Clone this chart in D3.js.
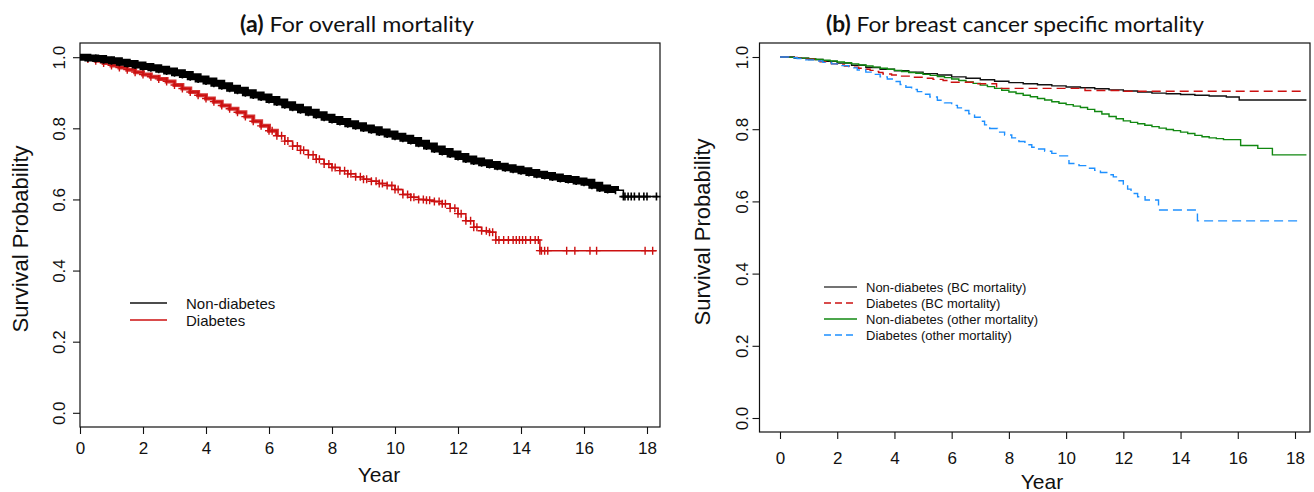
<!DOCTYPE html>
<html>
<head>
<meta charset="utf-8">
<script src="https://cdn.jsdelivr.net/npm/d3@7"></script>
<style>
  html, body { margin: 0; padding: 0; background: #fff; }
  svg { display: block; }
  text { font-family: "Liberation Sans", Arial, sans-serif; fill: #111; }
  .title { font-family: Lato, "Open Sans", sans-serif; }
</style>
</head>
<body>
<svg id="chart" width="1314" height="492"></svg>
<script>
// ---------------- DATA ----------------
const xTicks = [0, 2, 4, 6, 8, 10, 12, 14, 16, 18];
const yTicks = [0, 0.2, 0.4, 0.6, 0.8, 1.0];

// Panel (a): overall mortality, Kaplan-Meier step points
const aNonDiabTime = [0,0.25,0.5,0.75,1,1.25,1.5,1.75,2,2.25,2.5,2.75,3,3.25,3.5,3.75,4,4.25,4.5,4.75,5,5.25,5.5,5.75,6,6.25,6.5,6.75,7,7.25,7.5,7.75,8,8.25,8.5,8.75,9,9.25,9.5,9.75,10,10.25,10.5,10.75,11,11.25,11.5,11.75,12,12.25,12.5,12.75,13,13.25,13.5,13.75,14,14.25,14.5,14.75,15,15.25,15.5,15.75,16,16.25,16.5,16.75,17,17.25,18.35];
const aNonDiabSurv = [1.000,0.998,0.996,0.993,0.990,0.986,0.982,0.978,0.974,0.970,0.966,0.961,0.956,0.951,0.945,0.939,0.933,0.927,0.920,0.913,0.907,0.900,0.894,0.888,0.881,0.874,0.866,0.859,0.852,0.845,0.838,0.831,0.825,0.819,0.813,0.807,0.801,0.796,0.790,0.784,0.778,0.772,0.766,0.758,0.750,0.742,0.735,0.728,0.721,0.714,0.708,0.703,0.698,0.693,0.689,0.685,0.681,0.676,0.671,0.667,0.663,0.659,0.656,0.652,0.648,0.640,0.632,0.628,0.626,0.608,0.608];
const aNonDiabCensorTail = [17.3,17.4,17.5,17.6,17.75,17.9,18.0,18.3];

const aDiabTime = [0,0.25,0.5,0.75,1,1.25,1.5,1.75,2,2.25,2.5,2.75,3,3.25,3.5,3.75,4,4.25,4.5,4.75,5,5.25,5.5,5.75,6,6.25,6.5,6.75,7,7.25,7.5,7.75,8,8.25,8.5,8.75,9,9.25,9.5,9.75,10,10.25,10.5,10.75,11,11.25,11.5,11.75,12,12.25,12.5,12.75,13,13.2,14.6,18.3];
const aDiabSurv = [1.000,0.995,0.990,0.984,0.977,0.971,0.965,0.958,0.951,0.945,0.939,0.932,0.922,0.912,0.902,0.893,0.884,0.875,0.864,0.855,0.845,0.833,0.820,0.807,0.793,0.779,0.764,0.750,0.738,0.726,0.713,0.700,0.690,0.681,0.672,0.664,0.657,0.651,0.645,0.639,0.628,0.614,0.606,0.600,0.598,0.594,0.588,0.575,0.560,0.540,0.522,0.512,0.508,0.486,0.456,0.456];
const aDiabCensorMid = [6.1,6.4,6.6,6.9,7.1,7.4,7.6,7.9,8.1,8.4,8.6,8.9,9.1,9.4,9.6,9.9,10.1,10.4,10.6,10.9,11.1,11.4,11.6,11.9,12.1,12.4,12.6,12.9,13.1];
const aDiabCensorTail = [13.3,13.45,13.6,13.75,13.85,13.95,14.05,14.15,14.3,14.45,14.55,14.65,14.75,14.85,15.45,15.71,16.19,16.4,17.94,18.18];

// Panel (b): breast cancer specific mortality
const bNonDiabBCTime = [0,0.5,1,1.5,2,2.5,3,3.5,4,4.5,5,5.5,6,6.5,7,7.5,8,8.5,9,9.5,10,10.5,11,11.5,12,12.5,13,13.5,14,14.5,15,15.6,16.05,18.4];
const bNonDiabBCSurv = [1.000,0.997,0.993,0.988,0.983,0.977,0.971,0.966,0.962,0.958,0.954,0.950,0.945,0.941,0.937,0.933,0.929,0.926,0.923,0.920,0.917,0.915,0.912,0.909,0.906,0.903,0.900,0.898,0.896,0.894,0.892,0.889,0.881,0.881];

const bDiabBCTime = [0,0.3,0.6,0.9,1.2,1.4,1.6,1.8,2.0,2.25,2.5,2.75,3.0,3.15,3.3,3.45,3.6,3.9,4.2,4.6,5.0,5.35,5.7,5.9,6.8,7.57,10.66,11.9,18.2];
const bDiabBCSurv = [1.000,0.999,0.997,0.994,0.990,0.987,0.984,0.981,0.978,0.975,0.972,0.969,0.966,0.963,0.960,0.957,0.953,0.950,0.947,0.944,0.941,0.938,0.935,0.930,0.926,0.913,0.907,0.905,0.905];

const bNonDiabOtherTime = [0,0.25,0.5,0.75,1,1.25,1.5,1.75,2,2.25,2.5,2.75,3,3.25,3.5,3.75,4,4.25,4.5,4.75,5,5.25,5.5,5.75,6,6.25,6.5,6.75,7,7.25,7.5,7.75,8,8.25,8.5,8.75,9,9.25,9.5,9.75,10,10.25,10.5,10.75,11,11.25,11.5,11.75,12,12.25,12.5,12.75,13,13.25,13.5,13.75,14,14.25,14.5,14.75,15,15.25,15.5,16.1,16.7,17.21,18.4];
const bNonDiabOtherSurv = [1.000,0.999,0.998,0.997,0.995,0.993,0.991,0.989,0.986,0.984,0.981,0.978,0.975,0.972,0.969,0.966,0.963,0.960,0.957,0.955,0.952,0.949,0.946,0.943,0.939,0.935,0.931,0.927,0.922,0.918,0.913,0.908,0.903,0.899,0.894,0.890,0.885,0.881,0.876,0.872,0.868,0.864,0.860,0.855,0.849,0.842,0.835,0.829,0.823,0.819,0.815,0.811,0.807,0.803,0.799,0.796,0.792,0.788,0.783,0.779,0.776,0.774,0.771,0.755,0.747,0.729,0.729];

const bDiabOtherTime = [0,0.3,0.6,0.9,1.2,1.5,1.8,2.1,2.4,2.7,3.0,3.25,3.5,3.75,4.0,4.2,4.4,4.6,4.8,5.0,5.24,5.5,5.75,6.0,6.2,6.4,6.6,6.8,7.0,7.15,7.33,7.6,7.85,8.1,8.35,8.56,8.8,9.0,9.25,9.5,9.75,10.05,10.1,10.45,10.79,11.0,11.2,11.45,11.65,11.85,12.0,12.15,12.27,12.5,12.76,13.23,14.59,18.2];
const bDiabOtherSurv = [1.000,0.998,0.996,0.992,0.989,0.985,0.981,0.976,0.970,0.964,0.958,0.952,0.945,0.939,0.932,0.924,0.916,0.910,0.904,0.897,0.889,0.880,0.873,0.866,0.859,0.852,0.843,0.833,0.822,0.812,0.802,0.792,0.784,0.776,0.766,0.757,0.750,0.745,0.739,0.733,0.726,0.719,0.705,0.699,0.692,0.686,0.680,0.674,0.668,0.657,0.648,0.634,0.622,0.613,0.604,0.576,0.546,0.546];

const legendA = ["Non-diabetes", "Diabetes"];
const legendB = ["Non-diabetes (BC mortality)", "Diabetes (BC mortality)", "Non-diabetes (other mortality)", "Diabetes (other mortality)"];

// ---------------- DRAWING ----------------
const svg = d3.select("#chart");
const zip = (t, s) => t.map((d, i) => ({t: d, s: s[i]}));
const stepVal = (data, t) => { let v = data[0].s; for (const d of data) { if (d.t <= t) v = d.s; } return v; };
const plusPath = "M-4,0H4M0,-4V4";

function drawPanel(cfg) {
  const g = svg.append("g");
  const x = d3.scaleLinear().domain([0, 18]).range(cfg.xr);
  const y = d3.scaleLinear().domain([0, 1]).range(cfg.yr);

  g.append("rect").attr("x", cfg.box[0]).attr("y", cfg.box[1])
    .attr("width", cfg.box[2] - cfg.box[0]).attr("height", cfg.box[3] - cfg.box[1])
    .attr("fill", "none").attr("stroke", "#111").attr("stroke-width", 1.2);

  const xa = g.append("g").attr("transform", `translate(0,${cfg.box[3]})`)
    .call(d3.axisBottom(x).tickValues(xTicks).tickSize(7).tickPadding(5));
  xa.select(".domain").remove();
  xa.selectAll("line").attr("stroke", "#111").attr("stroke-width", 1.1);
  xa.selectAll("text").attr("font-size", 17).attr("font-family", "Liberation Sans, Arial, sans-serif").attr("fill", "#111");
  xa.selectAll("text").attr("y", cfg.xLabelY - cfg.box[3]).attr("dy", 0);

  const ya = g.append("g").attr("transform", `translate(${cfg.box[0]},0)`)
    .call(d3.axisLeft(y).tickValues(yTicks).tickSize(7).tickFormat(d3.format(".1f")));
  ya.select(".domain").remove();
  ya.selectAll("line").attr("stroke", "#111").attr("stroke-width", 1.1);
  ya.selectAll("text")
    .attr("font-size", 17).attr("font-family", "Liberation Sans, Arial, sans-serif").attr("fill", "#111")
    .attr("x", 0).attr("dy", 0).attr("text-anchor", "middle")
    .attr("transform", `translate(${cfg.yLabelX - cfg.box[0] + 6},0) rotate(-90)`);

  g.append("text").attr("x", cfg.xTitle[0]).attr("y", cfg.xTitle[1]).attr("text-anchor", "middle")
    .attr("font-size", 21).text("Year");
  g.append("text").attr("transform", `translate(${cfg.yTitle[0] + 7},${cfg.yTitle[1]}) rotate(-90)`)
    .attr("text-anchor", "middle").attr("font-size", 22).text("Survival Probability");

  const tt = g.append("text").attr("class", "title").attr("x", cfg.title[0]).attr("y", cfg.title[1])
    .attr("text-anchor", "middle").attr("font-size", 22)
    .attr("textLength", cfg.titleLen).attr("lengthAdjust", "spacingAndGlyphs");
  tt.append("tspan").attr("font-weight", "bold").text(cfg.titleBold);
  tt.append("tspan").text(cfg.titleRest);

  return {g, x, y};
}

const line = (x, y) => d3.line().x(d => x(d.t)).y(d => y(d.s)).curve(d3.curveStepAfter);

// ---- Panel A ----
const A = drawPanel({
  xr: [80, 647], yr: [412.8, 57.2], box: [80, 43, 660, 427],
  xLabelY: 454, yLabelX: 59, xTitle: [379, 482], yTitle: [21, 239],
  title: [357, 32], titleLen: 234, titleBold: "(a)", titleRest: " For overall mortality"
});
{
  const {g, x, y} = A;
  const nd = zip(aNonDiabTime, aNonDiabSurv);
  const di = zip(aDiabTime, aDiabSurv);
  g.append("path").datum(di.filter(d => d.t <= 6.25)).attr("d", line(x, y))
    .attr("fill", "none").attr("stroke", "#cc1010").attr("stroke-width", 4).attr("opacity", 0.85);
  g.append("path").datum(di).attr("d", line(x, y))
    .attr("fill", "none").attr("stroke", "#cc1010").attr("stroke-width", 1.5);
  const redMarks = di.slice(1, -1).map(d => ({t: d.t, s: d.s}))
    .concat(aDiabCensorMid.map(t => ({t, s: stepVal(di, t)})))
    .concat(aDiabCensorTail.map(t => ({t, s: stepVal(di, t)})));
  g.selectAll(".rm").data(redMarks).enter().append("path")
    .attr("d", plusPath).attr("transform", d => `translate(${x(d.t)},${y(d.s)})`)
    .attr("stroke", "#cc1010").attr("stroke-width", 1.4).attr("fill", "none");
  g.append("path").datum(nd.filter(d => d.t <= 17.0)).attr("d", line(x, y))
    .attr("fill", "none").attr("stroke", "#000").attr("stroke-width", 7);
  g.append("path").datum(nd).attr("d", line(x, y))
    .attr("fill", "none").attr("stroke", "#000").attr("stroke-width", 1.5);
  const blackMarks = nd.slice(1, -1).concat(aNonDiabCensorTail.map(t => ({t, s: stepVal(nd, t)})));
  g.selectAll(".bm").data(blackMarks).enter().append("path")
    .attr("d", plusPath).attr("transform", d => `translate(${x(d.t)},${y(d.s)})`)
    .attr("stroke", "#000").attr("stroke-width", 1.6).attr("fill", "none");

  const lg = g.append("g");
  const cols = ["#111", "#cc1010"];
  legendA.forEach((name, i) => {
    const yy = 303 + i * 17;
    lg.append("line").attr("x1", 130).attr("x2", 167).attr("y1", yy).attr("y2", yy)
      .attr("stroke", cols[i]).attr("stroke-width", 1.3);
    lg.append("text").attr("x", 186).attr("y", yy + 5.5).attr("font-size", 15).text(name);
  });
}

// ---- Panel B ----
const B = drawPanel({
  xr: [780, 1295], yr: [418, 57], box: [759.5, 43, 1310, 432],
  xLabelY: 464, yLabelX: 741.5, xTitle: [1042, 489], yTitle: [703, 232],
  title: [1015, 32], titleLen: 378, titleBold: "(b)", titleRest: " For breast cancer specific mortality"
});
{
  const {g, x, y} = B;
  const series = [
    {data: zip(bNonDiabBCTime, bNonDiabBCSurv), color: "#111", dash: null},
    {data: zip(bNonDiabOtherTime, bNonDiabOtherSurv), color: "#118811", dash: null},
    {data: zip(bDiabBCTime, bDiabBCSurv), color: "#cc1010", dash: "9,5"},
    {data: zip(bDiabOtherTime, bDiabOtherSurv), color: "#1e90ff", dash: "9,5"}
  ];
  series.forEach(s => {
    g.append("path").datum(s.data).attr("d", line(x, y))
      .attr("fill", "none").attr("stroke", s.color).attr("stroke-width", 1.4)
      .attr("stroke-dasharray", s.dash);
  });
  const legCols = ["#444", "#cc1010", "#118811", "#1e90ff"];
  const legDash = [null, "7,4", null, "7,4"];
  legendB.forEach((name, i) => {
    const yy = 287 + i * 16;
    g.append("line").attr("x1", 824).attr("x2", 857).attr("y1", yy).attr("y2", yy)
      .attr("stroke", legCols[i]).attr("stroke-width", 1.3).attr("stroke-dasharray", legDash[i]);
    g.append("text").attr("x", 866).attr("y", yy + 4.5).attr("font-size", 13).text(name);
  });
}
</script>
</body>
</html>
